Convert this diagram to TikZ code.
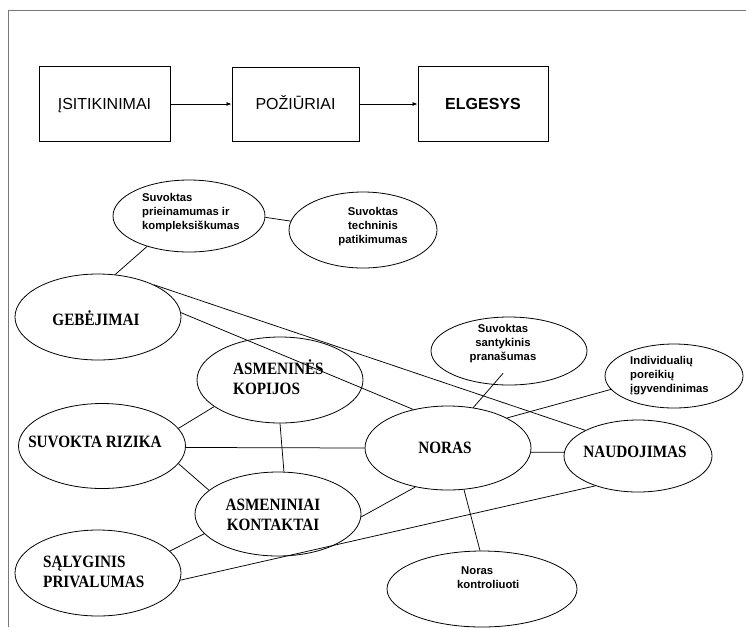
\documentclass[tikz,border=0pt]{standalone}
\usepackage{fontspec}
\setmainfont{Liberation Serif}
\newfontfamily\arialfont{Liberation Sans}
\newfontfamily\headfont[FakeStretch=0.88]{Liberation Serif}
\usetikzlibrary{shapes.geometric,arrows.meta}
\definecolor{framegray}{HTML}{777777}
\begin{document}
\begin{tikzpicture}[x=1pt,y=-1pt,
  stepbox/.style={draw, line width=0.9pt, inner sep=0pt, text height=11.5pt, text depth=0.5pt},
  oval/.style={draw, ellipse, inner sep=0pt, line width=0.8pt},
  link/.style={line width=0.75pt},
  flow/.style={line width=0.8pt, -{Latex[length=5pt,width=4pt]}},
  boxtext/.style={font=\arialfont\fontsize{16}{18}\selectfont},
  smalltext/.style={font=\arialfont\bfseries\fontsize{11.3}{14}\selectfont, inner sep=0pt},
  bigtext/.style={font=\headfont\bfseries\fontsize{17.3}{19.5}\selectfont, inner sep=0pt},
]
\useasboundingbox (0,0) rectangle (746,627);

% frame (top and left edges)
\draw[framegray, line width=1.7pt] (8.5,627) -- (8.5,10.5) -- (746,10.5);

% upper chain of boxes
\node[stepbox, boxtext, minimum width=131pt, minimum height=75pt] (b1) at (104.5,104) {ĮSITIKINIMAI};
\node[stepbox, boxtext, minimum width=127pt, minimum height=74pt] (b2) at (295.5,104) {POŽIŪRIAI};
\node[stepbox, boxtext, font=\arialfont\bfseries\fontsize{16}{18}\selectfont, minimum width=130pt, minimum height=75pt] (b3) at (483,104) {ELGESYS};
\draw[flow] (b1) -- (b2);
\draw[flow] (b2) -- (b3);

% ellipses
\node[oval, minimum width=152pt, minimum height=72pt] (pri) at (189,216) {};
\node[oval, minimum width=148pt, minimum height=76pt] (tech) at (363,230) {};
\node[oval, minimum width=166pt, minimum height=86pt] (geb) at (98,317) {};
\node[oval, minimum width=166pt, minimum height=86pt] (kop) at (280,380) {};
\node[oval, minimum width=167pt, minimum height=85pt] (riz) at (102,446) {};
\node[oval, minimum width=166pt, minimum height=84pt] (kon) at (278,514) {};
\node[oval, minimum width=166pt, minimum height=86pt] (sal) at (98,573) {};
\node[oval, minimum width=166pt, minimum height=84pt] (nor) at (448,448) {};
\node[oval, minimum width=148pt, minimum height=72pt] (nau) at (638,456) {};
\node[oval, minimum width=156pt, minimum height=68pt] (pra) at (509,351) {};
\node[oval, minimum width=138pt, minimum height=64pt] (ind) at (674,376) {};
\node[oval, minimum width=190pt, minimum height=76pt] (ktr) at (482,589) {};

% labels
\node[smalltext, align=left, anchor=west] (tpri) at (142,213) {Suvoktas\\prieinamumas ir\\kompleksiškumas};
\node[smalltext, align=center] (ttech) at (373,227) {Suvoktas\\techninis\\patikimumas};
\node[bigtext] (tgeb) at (96,318) {GEBĖJIMAI};
\node[bigtext, align=left, anchor=west] (tkop) at (233,377) {ASMENINĖS\\KOPIJOS};
\node[bigtext] (triz) at (95,442) {SUVOKTA RIZIKA};
\node[bigtext, align=center] (tkon) at (273,515) {ASMENINIAI\\KONTAKTAI};
\node[bigtext, align=left, anchor=west] (tsal) at (43,572) {SĄLYGINIS\\PRIVALUMAS};
\node[bigtext] (tnor) at (445,448) {NORAS};
\node[bigtext] (tnau) at (635,452) {NAUDOJIMAS};
\node[smalltext, align=center] (tpra) at (503,344) {Suvoktas\\santykinis\\pranašumas};
\node[smalltext, align=left, anchor=west] (tind) at (630,376) {Individualių\\poreikių\\įgyvendinimas};
\node[smalltext, align=left, anchor=west] (tktr) at (457,578) {\hspace*{4pt}Noras\\kontroliuoti};

% connectors
\draw[link] (pri.-1.5) -- (tech.173);
\draw[link] (pri.216) -- (geb.68);
\draw[link] (geb.30) -- (nau.154);
\draw[link] (geb.3.4) -- (nor.132.6);
\draw[link] (riz.13) -- (kop.202);
\draw[link] (riz.-1.5) -- (nor.180);
\draw[link] (riz.-13) -- (kon.161);
\draw[link] (kop.-90) -- (kon.82);
\draw[link] (kon.195) -- (sal.17);
\draw[link] (kon.-2) -- (nor.230);
\draw[link] (sal.-5.4) -- (nau.215);
\draw[link] (nor.-3.4) -- (nau.177.6);
\draw[link] (nor.58) -- ([xshift=2pt,yshift=12pt]pra.257);
\draw[link] (nor.27) -- (ind.192);
\draw[link] (nor.-69.6) -- (ktr.93);
\end{tikzpicture}
\end{document}
